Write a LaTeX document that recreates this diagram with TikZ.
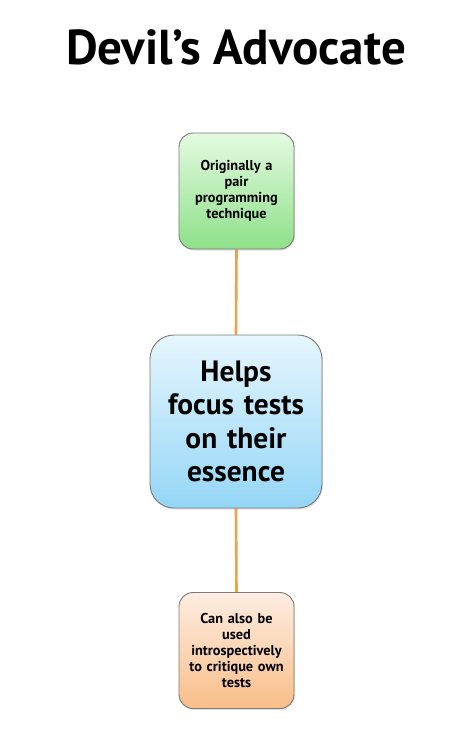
\documentclass[tikz,border=0pt]{standalone}
\usepackage{fontspec}
\setmainfont{PT Sans}
\usetikzlibrary{shadows,backgrounds}
\definecolor{linkc}{HTML}{F0A048}
\definecolor{bord}{HTML}{7A7A7A}
\definecolor{gtop}{HTML}{E4FAE0}
\definecolor{gbot}{HTML}{8EE08A}
\definecolor{btop}{HTML}{E6F6FD}
\definecolor{bbot}{HTML}{94D6F6}
\definecolor{otop}{HTML}{FEEDE2}
\definecolor{obot}{HTML}{F8BE88}
\tikzset{
  box/.style={draw=bord, line width=0.9pt, align=center, inner sep=0pt,
    drop shadow={shadow xshift=1pt, shadow yshift=-1.5pt, opacity=0.25}},
  small/.style={box, minimum width=115pt, minimum height=116pt, rounded corners=14pt,
    font=\fontsize{14.3}{16}\selectfont\bfseries, text width=110pt},
  link/.style={draw=linkc, line width=2.6pt}
}
\begin{document}
\begin{tikzpicture}[x=1pt,y=-1pt]
\useasboundingbox (0,0) rectangle (473,756);
\node (title) at (236,47) {\fontsize{49}{50}\selectfont\bfseries Devil’s Advocate};
\node[small, top color=gtop, bottom color=gbot] (top) at (236.5,191) {Originally a\\pair\\programming\\technique};
\node[box, minimum width=172pt, minimum height=173pt, rounded corners=24pt,
  top color=btop, bottom color=bbot,
  font=\fontsize{29.4}{33.5}\selectfont\bfseries, text width=166pt] (mid) at (236,421.5) {Helps\\focus tests\\on their\\essence};
\node[small, top color=otop, bottom color=obot] (bot) at (236.5,650.5) {Can also be\\used\\introspectively\\to critique own\\tests};
\begin{scope}[on background layer]
\draw[link] (top.south) -- (mid.north);
\draw[link] (mid.south) -- (bot.north);
\end{scope}
\end{tikzpicture}
\end{document}
